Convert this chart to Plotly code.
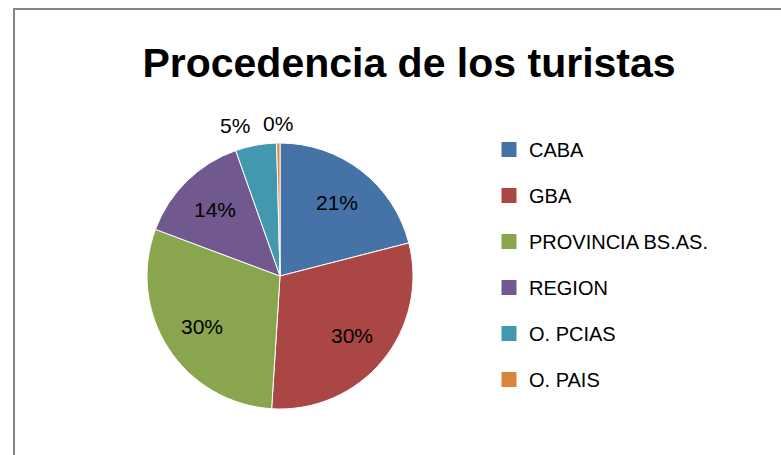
import math
import plotly.graph_objects as go

categories = ["CABA", "GBA", "PROVINCIA BS.AS.", "REGION", "O. PCIAS", "O. PAIS"]
values = [21.0, 30.0, 29.7, 13.9, 5.0, 0.4]
colors = ["#4572A7", "#AA4643", "#89A54E", "#71588F", "#4198AF", "#DB843D"]
label_outside = [False, False, False, False, True, True]
title_text = "Procedencia de los turistas"

W, H = 781, 455
FONT = "Liberation Sans, Arial, sans-serif"

fig = go.Figure()

# pie centre (280, 276) px, radius 133 px
cx, cy, r = 280, 276, 133
fig.add_trace(go.Pie(
    labels=categories,
    values=values,
    sort=False,
    direction="clockwise",
    rotation=0,
    marker=dict(colors=colors, line=dict(color="#FFFFFF", width=1)),
    textinfo="none",
    domain=dict(x=[(cx - r) / W, (cx + r) / W], y=[(H - cy - r) / H, (H - cy + r) / H]),
    showlegend=False,
    hoverinfo="label+percent",
))

# data labels placed along each slice's bisector (Excel style)
total = sum(values)
annotations = []
cum = 0.0
for v, outside in zip(values, label_outside):
    frac = v / total
    mid = (cum + frac / 2) * 2 * math.pi  # clockwise from 12 o'clock
    cum += frac
    rad = r + 20 if outside else 0.7 * r
    px = cx + rad * math.sin(mid)
    py = cy - rad * math.cos(mid)
    s = math.sin(mid)
    if outside and s < -0.1:
        xa = "right"
    elif outside and s > 0.1:
        xa = "left"
    else:
        xa = "center"
    annotations.append(dict(
        x=px / W, y=1 - py / H, xref="paper", yref="paper",
        text=f"{round(frac * 100)}%", showarrow=False,
        xanchor=xa, yanchor="middle",
        font=dict(family=FONT, size=21, color="#000000"),
    ))

# legend entries (one per category)
for name, col in zip(categories, colors):
    fig.add_trace(go.Scatter(
        x=[None], y=[None], mode="markers", name=name,
        legendgroup=name,
        marker=dict(symbol="square", size=15, color=col),
        hoverinfo="skip",
    ))

fig.update_layout(
    width=W, height=H,
    margin=dict(l=0, r=0, t=0, b=0),
    paper_bgcolor="#FFFFFF",
    plot_bgcolor="#FFFFFF",
    xaxis=dict(visible=False),
    yaxis=dict(visible=False),
    title=dict(
        text="<b>" + title_text + "</b>",
        x=409 / W, xanchor="center",
        y=1 - 63 / H, yanchor="middle",
        font=dict(family=FONT, size=41, color="#000000"),
    ),
    legend=dict(
        x=489 / W, xanchor="left",
        y=1 - 130 / H, yanchor="top",
        font=dict(family=FONT, size=20, color="#000000"),
        tracegroupgap=17,
        bgcolor="rgba(0,0,0,0)",
    ),
    annotations=annotations,
    shapes=[dict(
        type="rect", xref="paper", yref="paper",
        x0=14 / W, x1=1.2, y0=-0.2, y1=1 - 9 / H,
        line=dict(color="#868686", width=2),
        fillcolor="rgba(0,0,0,0)", layer="above",
    )],
)

fig.write_html(
    "out.html",
    config={"displayModeBar": False},
    post_script="document.body.style.margin='0px';",
)
